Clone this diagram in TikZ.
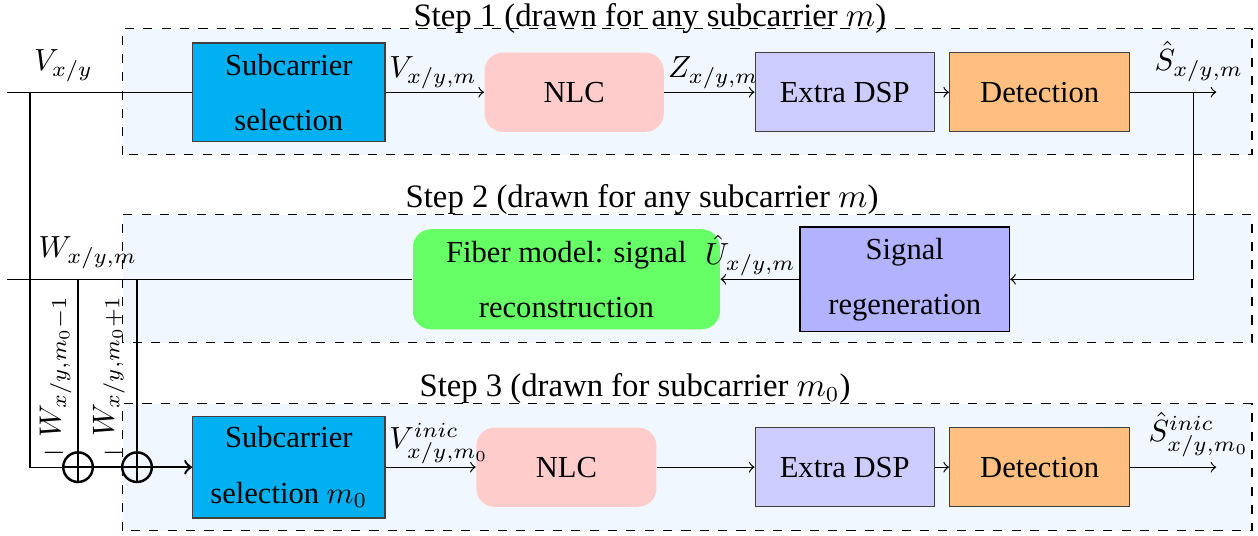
\documentclass[tikz,border=0pt]{standalone}
\usepackage{fontspec}
\setmainfont{Liberation Serif}
\definecolor{selblue}{RGB}{0,176,240}
\definecolor{stepbg}{RGB}{240,247,254}
\begin{document}
\begin{tikzpicture}[
	blockbox/.style={draw=black!75, align=center, inner sep=0pt},
	softbox/.style={rounded corners=6pt, align=center, inner sep=0pt},
	stepframe/.style={draw, dashed, fill=stepbg},
	steptitle/.style={anchor=base, font=\fontsize{10.7pt}{13pt}\selectfont},
	sumnode/.style={draw, thick, circle, minimum size=0.34cm, inner sep=0pt,
		path picture={\draw (path picture bounding box.north) -- (path picture bounding box.south)
			(path picture bounding box.west) -- (path picture bounding box.east);}},
	lbl/.style={inner sep=1pt}]
	\useasboundingbox (0,0) rectangle (14.46,6.16);
	% frames of the three steps
	\draw[stepframe] (1.41,4.38) rectangle (14.39,5.83);
	\draw[stepframe] (1.41,2.22) rectangle (14.39,3.69);
	\draw[stepframe] (1.41,0.06) rectangle (14.39,1.52);
	\node[steptitle] (title1) at (7.47,5.86) {Step 1 (drawn for any subcarrier $m$)};
	\node[steptitle] (title2) at (7.38,3.78) {Step 2 (drawn for any subcarrier $m$)};
	\node[steptitle] (title3) at (7.30,1.60) {Step 3 (drawn for subcarrier $m_0$)};
	% step 1
	\node[blockbox, fill=selblue, minimum width=2.21cm, minimum height=1.13cm] (sel1) at (3.32,5.10) {Subcarrier\\[6pt] selection};
	\node[softbox, fill=red!20, minimum width=2.06cm, minimum height=0.91cm] (nlc1) at (6.60,5.10) {NLC};
	\node[blockbox, fill=blue!20, minimum width=2.06cm, minimum height=0.91cm] (dsp1) at (9.71,5.10) {Extra DSP};
	\node[blockbox, fill=orange!50, minimum width=2.07cm, minimum height=0.91cm] (det1) at (11.95,5.10) {Detection};
	\coordinate (vin) at (0.08,5.10);
	\coordinate (vb) at (0.345,5.10);
	\coordinate (sb) at (13.72,5.10);
	\coordinate (out1) at (13.98,5.10);
	\node[above] (vlbl) at (0.73,5.10) {$V_{x/y}$};
	\node[above] (s1lbl) at (13.78,5.10) {$\hat S_{x/y,m}$};
	\draw (vin) -- (sel1);
	\draw[->] (sel1) -- node[pos=0, above right, lbl] {$V_{x/y,m}$} (nlc1);
	\draw[->] (nlc1) -- node[pos=0, above right, lbl] {$Z_{x/y,m}$} (dsp1);
	\draw[->] (dsp1) -- (det1);
	\draw[->] (det1) -- (out1);
	% step 2
	\node[softbox, fill=green!60, minimum width=3.53cm, minimum height=1.15cm] (fib) at (6.51,2.95) {Fiber model: signal\\[6pt] reconstruction};
	\node[blockbox, draw=black, fill=blue!30, minimum width=2.41cm, minimum height=1.2cm] (reg) at (10.40,2.95) {Signal\\[6pt] regeneration};
	\coordinate (win) at (0.08,2.95);
	\node[above] (wlbl) at (1.01,2.95) {$W_{x/y,m}$};
	\draw[->] (sb) |- (reg.east);
	\draw[->] (reg) -- node[pos=0, above left, lbl] {$\hat U_{x/y,m}$} (fib);
	\draw (fib) -- (win);
	% step 3
	\node[blockbox, fill=selblue, minimum width=2.21cm, minimum height=1.17cm] (sel3) at (3.32,0.79) {Subcarrier\\[6pt] selection $m_0$};
	\node[softbox, fill=red!20, minimum width=2.07cm, minimum height=0.91cm] (nlc3) at (6.51,0.79) {NLC};
	\node[blockbox, fill=blue!20, minimum width=2.06cm, minimum height=0.91cm] (dsp3) at (9.71,0.79) {Extra DSP};
	\node[blockbox, fill=orange!50, minimum width=2.07cm, minimum height=0.91cm] (det3) at (11.95,0.79) {Detection};
	\node[sumnode] (p1) at (0.897,0.79) {};
	\node[sumnode] (p2) at (1.575,0.79) {};
	\coordinate (out3) at (13.98,0.79);
	\node[rotate=90] (wminus) at (0.64,1.95) {$W_{x/y,m_0-1}$};
	\node[rotate=90] (wplus) at (1.25,1.95) {$W_{x/y,m_0+1}$};
	\node (sign1) at (0.63,0.95) {$-$};
	\node (sign2) at (1.32,0.95) {$-$};
	\node[above] (s3lbl) at (13.78,0.79) {$\hat S^{inic}_{x/y,m_0}$};
	\draw (vb) |- (p1);
	\draw (p1 |- win) -- (p1);
	\draw (p2 |- win) -- (p2);
	\draw[thick] (p1) -- (p2);
	\draw[thick, ->] (p2) -- (sel3);
	\draw[->] (sel3) -- node[pos=0, above right, lbl] {$V^{inic}_{x/y,m_0}$} (nlc3);
	\draw[->] (nlc3) -- (dsp3);
	\draw[->] (dsp3) -- (det3);
	\draw[->] (det3) -- (out3);
\end{tikzpicture}
\end{document}
